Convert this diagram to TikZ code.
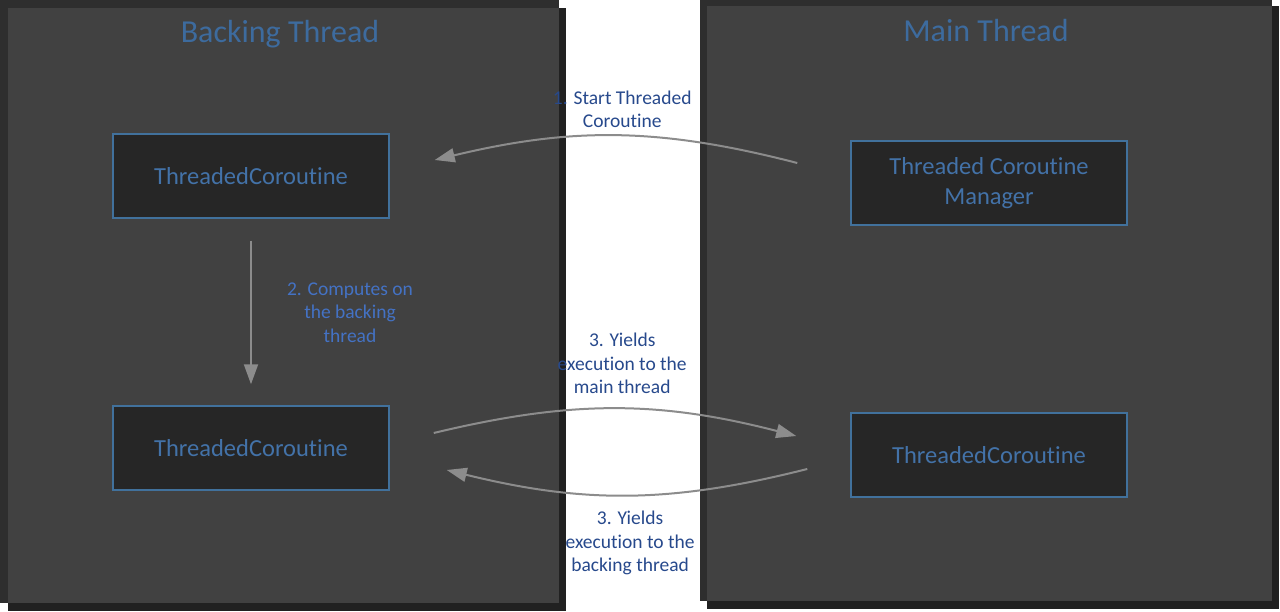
\documentclass[tikz,border=0pt]{standalone}
\usepackage{fontspec}
\setmainfont[Ligatures={NoCommon}]{Carlito}
\usetikzlibrary{arrows.meta, positioning}
\definecolor{panelgray}{HTML}{414141}
\definecolor{shadowlt}{HTML}{2E2E2E}
\definecolor{shadowdk}{HTML}{212121}
\definecolor{boxfill}{HTML}{262626}
\definecolor{boxline}{HTML}{41719C}
\definecolor{boxtext}{HTML}{4372A8}
\definecolor{titletext}{HTML}{3D6B9E}
\definecolor{steptext}{HTML}{4472C4}
\definecolor{outtext}{HTML}{27498C}
\definecolor{arrowgray}{HTML}{8C8C8C}
\tikzstyle{panel} = [rectangle, fill=panelgray, inner sep=0pt]
\tikzstyle{title} = [text=titletext, font=\fontsize{32}{36}\selectfont]
\tikzstyle{coro} = [rectangle, minimum width=276pt, minimum height=84pt, draw=boxline, line width=1.5pt, fill=boxfill, text=boxtext, align=center, font=\fontsize{24.5}{30}\selectfont]
\tikzstyle{steplabel} = [align=center, inner sep=2pt, font=\fontsize{19.5}{23.5}\selectfont]
\tikzstyle{arrow} = [line width=2pt, draw=arrowgray, -{Triangle[length=20pt, width=14pt]}]

\begin{document}
\begin{tikzpicture}[x=1pt, y=-1pt, node distance=272pt]
    \useasboundingbox (0,0) rectangle (1280,612);

    % panels with their shadows
    \fill[shadowdk] (8,8) rectangle (566,611);
    \fill[shadowlt] (0,0) rectangle (559,603);
    \fill[panelgray] (8,8) rectangle (559,603);
    \fill[shadowdk] (707,6) rectangle (1279,609);
    \fill[shadowlt] (700,0) rectangle (1272,601);
    \fill[panelgray] (707,6) rectangle (1272,601);

    \node (backing) [title] at (280,34) {Backing Thread};
    \node (main) [title] at (986,31) {Main Thread};

    \node (tc1) [coro] at (251,176) {ThreadedCoroutine};
    \node (tc2) [coro, below of=tc1] {ThreadedCoroutine};
    \node (mgr) [coro, right of=tc1, xshift=466pt, yshift=-7pt] {Threaded Coroutine\\Manager};
    \node (tc3) [coro, below of=mgr] {ThreadedCoroutine};

    \draw [arrow] ([xshift=-53pt, yshift=20pt]mgr.west) to[bend right=14]
        node[steplabel, text=outtext, midway, above=5pt, xshift=6pt] {1. Start Threaded\\Coroutine}
        ([xshift=45pt, yshift=16pt]tc1.east);
    \draw [arrow] ([yshift=-22pt]tc1.south) --
        node[steplabel, text=steptext, midway, right=33pt] {2. Computes on\\the backing\\thread}
        ([yshift=21pt]tc2.north);
    \draw [arrow] ([xshift=44pt, yshift=15pt]tc2.east) to[bend left=14]
        node[steplabel, text=outtext, midway, above=12pt, xshift=7pt] {3. Yields\\execution to the\\main thread}
        ([xshift=-54pt, yshift=19pt]tc3.west);
    \draw [arrow] ([xshift=-43pt, yshift=-14pt]tc3.west) to[bend left=14]
        node[steplabel, text=outtext, midway, below=13pt, xshift=3pt] {3. Yields\\execution to the\\backing thread}
        ([xshift=57pt, yshift=-22pt]tc2.east);

\end{tikzpicture}
\end{document}
